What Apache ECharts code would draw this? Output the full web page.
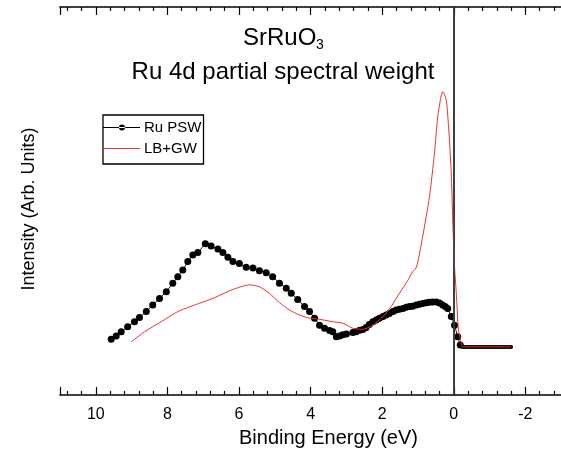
<!DOCTYPE html>
<html>
<head>
<meta charset="utf-8">
<script src="https://cdn.jsdelivr.net/npm/echarts@6/dist/echarts.min.js"></script>
<style>
  html, body { margin: 0; padding: 0; background: #fff; }
  #chart { width: 561px; height: 455px; }
</style>
</head>
<body>
<div id="chart"></div>
<script>
// Ru 4d partial spectral weight of SrRuO3 vs. LB+GW calculation
// Binding energy in eV, intensity in arbitrary units.

const psw_energy = [
  9.57, 9.43, 9.29, 9.11, 8.92, 8.78, 8.59, 8.41, 8.22, 8.03,
  7.85, 7.71, 7.57, 7.43, 7.29, 7.15, 6.94, 6.78, 6.59, 6.45,
  6.31, 6.17, 5.99, 5.80, 5.61, 5.43, 5.24, 5.06, 4.87, 4.68,
  4.54, 4.36, 4.17, 4.03, 3.89, 3.75, 3.61, 3.47, 3.38, 3.28,
  3.19, 3.10, 3.00, 2.82, 2.73, 2.63, 2.54, 2.45, 2.36, 2.26,
  2.17, 2.08, 1.98, 1.89, 1.80, 1.70, 1.61, 1.52, 1.42, 1.33,
  1.24, 1.15, 1.05, 0.96, 0.87, 0.77, 0.68, 0.59, 0.49, 0.40,
  0.31, 0.24, 0.17, 0.07, -0.02, -0.11, -0.18,
  -0.25, -0.30, -0.35, -0.40, -0.45, -0.50, -0.55, -0.60, -0.65, -0.70,
  -0.75, -0.80, -0.85, -0.90, -0.95, -1.00, -1.05, -1.10, -1.15, -1.20,
  -1.25, -1.30, -1.35, -1.40, -1.45, -1.50, -1.55, -1.60
];
const psw_intensity = [
  14.4, 15.2, 16.3, 17.6, 18.9, 20.0, 21.5, 23.2, 24.9, 26.6,
  28.8, 30.5, 32.2, 34.4, 36.1, 36.7, 39.0, 38.4, 37.6, 36.7,
  35.5, 34.4, 33.9, 32.9, 32.7, 32.0, 31.5, 30.5, 28.8, 27.5,
  26.2, 24.6, 22.8, 21.5, 19.8, 18.0, 17.2, 16.6, 16.3, 15.0,
  15.2, 15.5, 15.7, 16.1, 16.3, 16.7, 16.9, 17.4, 18.2, 18.9,
  19.3, 19.8, 20.2, 20.6, 21.0, 21.5, 21.9, 22.1, 22.3, 22.6,
  22.8, 22.9, 23.2, 23.4, 23.6, 23.8, 23.9, 24.0, 24.0, 23.7,
  23.2, 22.8, 22.3, 20.2, 18.0, 15.0, 12.9,
  12.4, 12.4, 12.4, 12.4, 12.4, 12.4, 12.4, 12.4, 12.4, 12.4,
  12.4, 12.4, 12.4, 12.4, 12.4, 12.4, 12.4, 12.4, 12.4, 12.4,
  12.4, 12.4, 12.4, 12.4, 12.4, 12.4, 12.4, 12.4
];

const calc_energy = [
  9.01, 8.64, 8.17, 7.71, 7.24, 6.73, 6.17, 5.71, 5.43, 5.15,
  4.87, 4.59, 4.31, 4.03, 3.75, 3.39, 3.10, 2.82, 2.54, 2.26,
  1.98, 1.75, 1.52, 1.28, 1.15, 1.04, 0.87, 0.68, 0.54, 0.45,
  0.35, 0.31, 0.21, 0.14, 0.07, 0.03, -0.02, -0.07, -0.13, -0.21,
  -0.24, -1.60
];
const calc_intensity = [
  13.7, 16.3, 18.9, 21.5, 23.2, 24.9, 27.2, 28.4, 27.9, 26.2,
  23.8, 21.9, 20.6, 19.8, 19.5, 18.9, 18.5, 17.2, 16.9, 18.0,
  20.2, 22.8, 26.2, 29.6, 31.8, 33.0, 40.8, 51.1, 62.3, 71.7,
  77.3, 78.2, 76.0, 68.3, 57.1, 45.1, 33.1, 26.2, 16.8, 13.3,
  12.4, 12.4
];

// energy axis runs from 11 eV (left) to -4 eV; the right part is cut off by the canvas edge
const xTicks = { min: -4, max: 11, step: 2 };
const titleLine1 = 'SrRuO';
const titleSub = '3';
const titleLine2 = 'Ru 4d partial spectral weight';
const xName = 'Binding Energy (eV)';
const yName = 'Intensity (Arb. Units)';
const seriesNames = ['Ru PSW', 'LB+GW'];

const FONT = "'Liberation Sans', Arial, Helvetica, sans-serif";

const pswData = psw_energy.map((e, i) => [e, psw_intensity[i]]);
const calcData = calc_energy.map((e, i) => [e, calc_intensity[i]]);

function xAxisCfg(pos, labels) {
  return {
    type: 'value',
    position: pos,
    inverse: true,
    min: xTicks.min,
    max: xTicks.max,
    interval: xTicks.step,
    axisLine: { show: true, onZero: false, lineStyle: { color: '#000', width: 1.6 } },
    axisTick: { show: true, inside: true, length: 8, lineStyle: { color: '#000', width: 1.2 } },
    minorTick: { show: true, splitNumber: 5, length: 4, lineStyle: { color: '#000', width: 1.2 } },
    splitLine: { show: false },
    minorSplitLine: { show: false },
    axisLabel: labels ? {
      show: true, color: '#000', fontSize: 16, fontFamily: FONT, margin: 12,
      showMinLabel: false, showMaxLabel: false
    } : { show: false },
    name: labels ? xName : '',
    nameLocation: 'middle',
    nameGap: 33,
    nameTextStyle: { color: '#000', fontSize: 20, fontFamily: FONT }
  };
}

// legend glyphs: thin line with a dot, and a plain thin line
const ICON_DOT_LINE = 'path://M0,6.5h37v1h-37z M22,7a3,3 0 1,0 -6,0a3,3 0 1,0 6,0z';
const ICON_LINE = 'path://M0,0h37v1h-37z';

const chart = echarts.init(document.getElementById('chart'), null, { renderer: 'canvas' });

chart.setOption({
  animation: false,
  backgroundColor: '#fff',
  grid: { left: 60, top: 7, bottom: 60, width: 537, containLabel: false, outerBoundsMode: 'none' },
  xAxis: [xAxisCfg('bottom', true), xAxisCfg('top', false)],
  yAxis: {
    type: 'value',
    min: 0,
    max: 100,
    axisLine: { show: true, lineStyle: { color: '#000', width: 1.6 } },
    axisTick: { show: false },
    axisLabel: { show: false },
    splitLine: { show: false }
  },
  legend: {
    data: [
      { name: seriesNames[0], icon: ICON_DOT_LINE, itemStyle: { color: '#000' } },
      { name: seriesNames[1], icon: ICON_LINE, itemStyle: { color: '#e8332e' } }
    ],
    orient: 'vertical',
    left: 103,
    top: 115,
    itemWidth: 37,
    itemHeight: 14,
    itemGap: 6,
    padding: [5, 2, 8, 0],
    borderColor: '#000',
    borderWidth: 1.3,
    backgroundColor: '#fff',
    textStyle: { color: '#000', fontSize: 15, fontFamily: FONT, padding: [0, 0, 0, -1] }
  },
  graphic: [
    {
      type: 'text', x: 243, y: 38,
      style: { text: titleLine1, fill: '#000', font: '24px ' + FONT, textAlign: 'left', textVerticalAlign: 'middle' }
    },
    {
      type: 'text', x: 316, y: 45,
      style: { text: titleSub, fill: '#000', font: '14px ' + FONT, textAlign: 'left', textVerticalAlign: 'middle' }
    },
    {
      type: 'text', x: 283, y: 72,
      style: { text: titleLine2, fill: '#000', font: '24px ' + FONT, textAlign: 'center', textVerticalAlign: 'middle' }
    },
    {
      type: 'text', x: 29, y: 209, rotation: Math.PI / 2,
      style: { text: yName, fill: '#000', font: '18px ' + FONT, textAlign: 'center', textVerticalAlign: 'middle' }
    }
  ],
  series: [
    {
      name: seriesNames[0],
      type: 'line',
      xAxisIndex: 0,
      data: pswData,
      symbol: 'circle',
      symbolSize: function (v) { return v[0] < -0.2 ? 4 : 7; },
      showAllSymbol: true,
      itemStyle: { color: '#000' },
      lineStyle: { color: '#222', width: 1 },
      z: 2,
      markLine: {
        silent: true,
        symbol: ['none', 'none'],
        label: { show: false },
        lineStyle: { color: '#444', width: 1.5, type: 'solid' },
        data: [{ xAxis: 0 }]
      }
    },
    {
      name: seriesNames[1],
      type: 'line',
      xAxisIndex: 0,
      data: calcData,
      symbol: 'none',
      showSymbol: false,
      smooth: 0.2,
      itemStyle: { color: '#e8332e' },
      lineStyle: { color: '#e8332e', width: 1 },
      z: 3
    }
  ]
});
</script>
</body>
</html>
